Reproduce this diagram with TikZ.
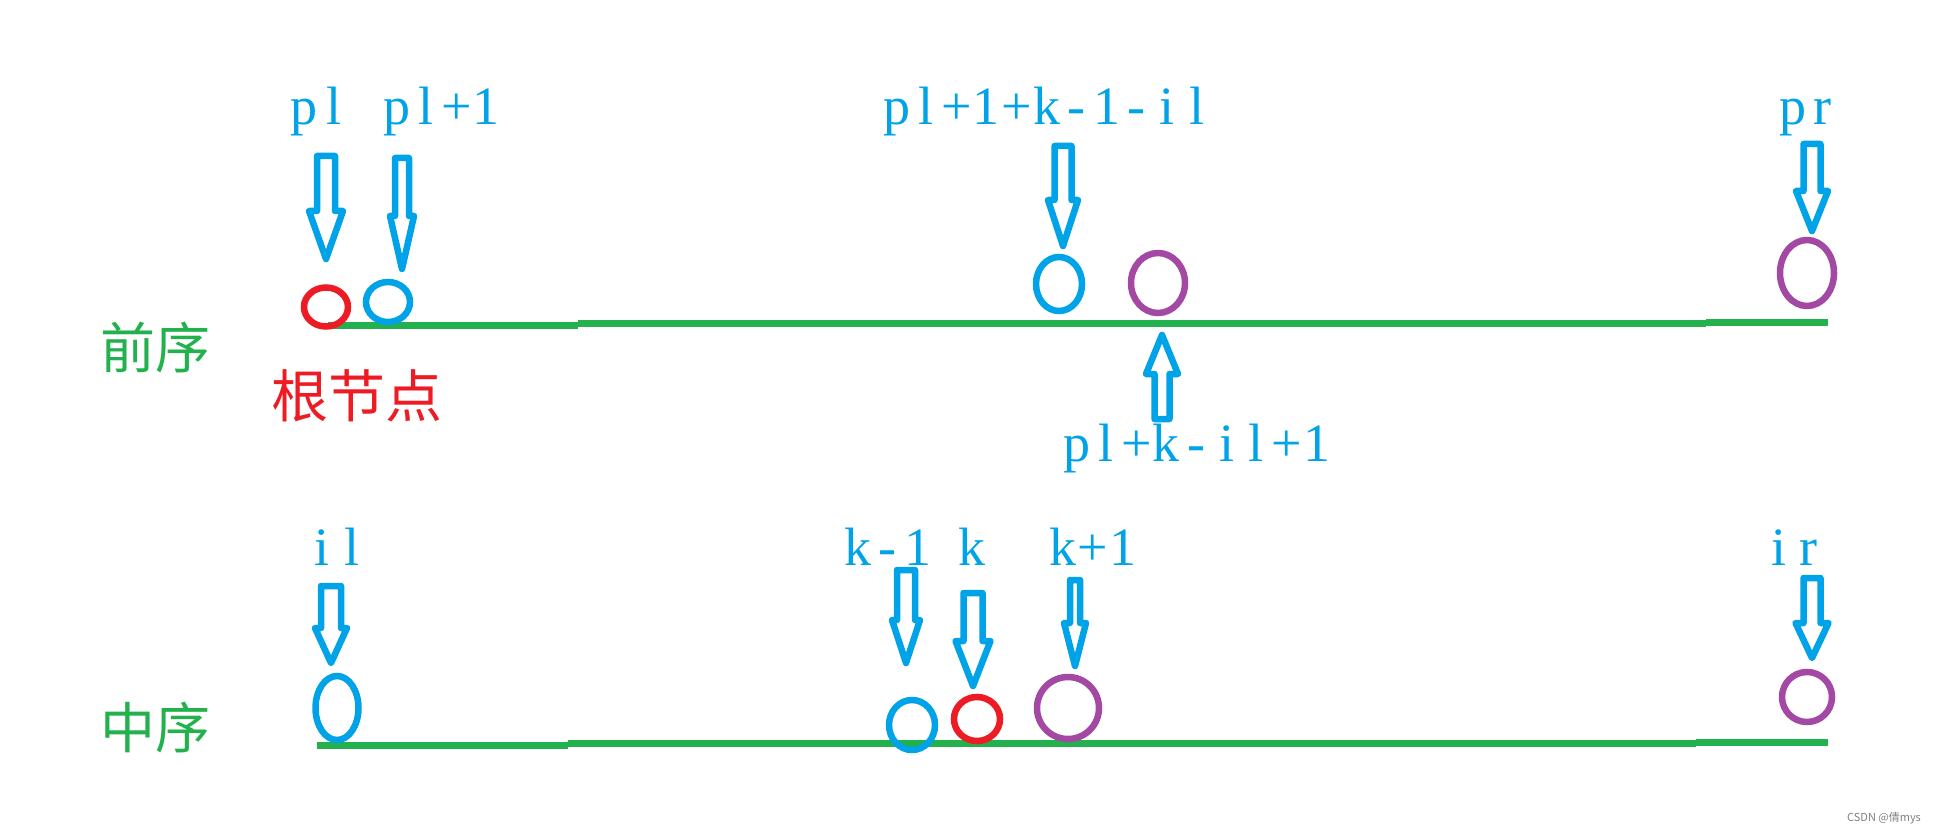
\documentclass[tikz,border=0pt]{standalone}
\usepackage{fontspec}
\newfontfamily\cjk{Noto Sans CJK SC}
\newfontfamily\idxfont{Liberation Serif}
\usetikzlibrary{shapes.geometric}
\usepackage{xcolor}
\definecolor{pblue}{RGB}{0,162,232}
\definecolor{pred}{RGB}{237,28,36}
\definecolor{pgreen}{RGB}{34,177,76}
\definecolor{ppurple}{RGB}{163,73,164}
% one fixed-width cell per character
\makeatletter
\newcommand{\cells}[1]{\cells@#1\@nil}
\def\cells@#1{\ifx#1\@nil\else\makebox[30pt]{#1}\expandafter\cells@\fi}
\makeatother
\tikzset{
    ring/.style={
        draw=#1,ellipse,line width=6.5pt,inner sep=0pt,outer sep=0pt
    },
    ring/.default=pblue,
    idx/.style={
        text=pblue,font=\idxfont\fontsize{54}{60}\selectfont,
        anchor=base,inner sep=0pt
    },
    order/.style={
        text=#1,font=\cjk\fontsize{55}{60}\selectfont,inner sep=0pt
    },
    order/.default=pgreen,
    pointer/.style={
        draw=pblue,line width=6.5pt,line join=round,fill=white
    },
    track/.style={
        draw=pgreen,line width=7pt
    }
}
% x, tail y, head y, tip y, shaft half width, head half width
\newcommand{\blockarrow}[6]{%
    \draw[pointer](#1-#5,#2)--(#1+#5,#2)--(#1+#5,#3)--(#1+#6,#3)
        --(#1,#4)--(#1-#6,#3)--(#1-#5,#3)--cycle;}

\begin{document}
\begin{tikzpicture}[x=1pt,y=-1pt]
\useasboundingbox (0,0) rectangle (1938,834);

% preorder
\node[order] (pre) at (155,348) {前序};
\node[order=pred,font=\cjk\fontsize{57}{60}\selectfont] (root) at (357,396) {根节点};
\draw[track](328,325)--(578,325);
\draw[track](578,323)--(1706,323);
\draw[track](1706,322)--(1828,322);

\node[ring=pred,minimum width=44,minimum height=39] (c0) at (326,307) {};
\node[ring,minimum width=44,minimum height=40] (c1) at (388,302) {};
\node[ring,minimum width=46,minimum height=54] (c2) at (1059,284) {};
\node[ring=ppurple,minimum width=54,minimum height=60] (c3) at (1158,283) {};
\node[ring=ppurple,minimum width=54,minimum height=66] (c4) at (1807,273) {};

\node[idx] (pl) at (319,125) {\cells{pl}};
\node[idx] (pl1) at (441.5,125) {\cells{pl+1}};
\node[idx] (plk) at (1046.5,125) {\cells{pl+1+k-1-il}};
\node[idx] (pr) at (1807.5,125) {\cells{pr}};
\node[idx] (plr) at (1196.5,461) {\cells{pl+k-il+1}};

\blockarrow{326}{156}{211}{259}{9}{17}
\blockarrow{402}{158}{216}{269}{7}{12}
\blockarrow{1063}{146}{200}{246}{8.5}{15}
\blockarrow{1162}{419}{374}{335}{7.5}{16}
\blockarrow{1812}{144}{191}{231}{8.5}{16}

% inorder
\node[order] (in) at (155,728) {中序};
\draw[track](317,745)--(568,745);
\draw[track](568,743)--(1696,743);
\draw[track](1696,742)--(1828,742);

\node[ring,minimum width=43,minimum height=64] (d0) at (337,708) {};
\node[ring,minimum width=46,minimum height=50] (d1) at (912,725) {};
\node[ring=pred,minimum width=46,minimum height=44] (d2) at (977,719) {};
\node[ring=ppurple,minimum width=62,minimum height=62] (d3) at (1068,708) {};
\node[ring=ppurple,minimum width=50,minimum height=50] (d4) at (1807,697) {};

\node[idx] (il) at (337,565) {\cells{il}};
\node[idx] (km) at (887.5,565) {\cells{k-1}};
\node[idx] (k) at (971.5,565) {\cells{k}};
\node[idx] (kp) at (1092.5,565) {\cells{k+1}};
\node[idx] (ir) at (1793.5,565) {\cells{ir}};

\blockarrow{331}{586}{628}{663}{10}{16}
\blockarrow{906}{570}{620}{663}{9}{14}
\blockarrow{973}{593}{641}{686}{9.5}{17.5}
\blockarrow{1075}{580}{623}{666}{5}{11}
\blockarrow{1812}{578}{623}{658}{8.5}{16.5}

\node[text=gray,font=\cjk\fontsize{11}{12}\selectfont] (mark) at (1884,818) {CSDN @倩mys};
\end{tikzpicture}
\end{document}
